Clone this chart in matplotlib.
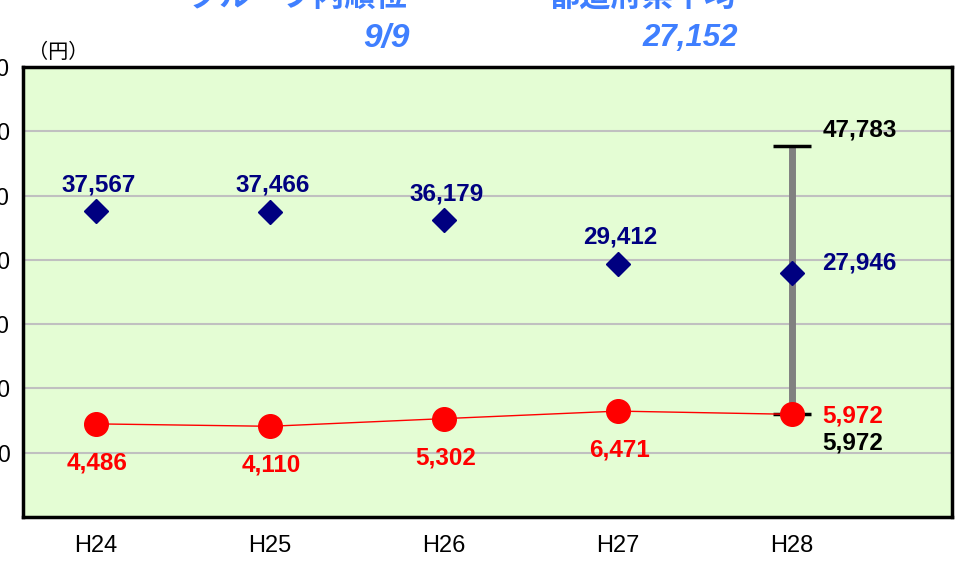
import matplotlib
matplotlib.use("Agg")
import matplotlib.pyplot as plt

plt.rcParams['font.family'] = ['Liberation Sans', 'Noto Sans CJK JP', 'DejaVu Sans']

# data
years = ["H24", "H25", "H26", "H27", "H28"]
group_values = [37567, 37466, 36179, 29412, 27946]   # blue diamonds
own_values = [4486, 4110, 5302, 6471, 5972]          # red circles
range_max = 47783
range_min = 5972
y_ticks = [0, 10000, 20000, 30000, 40000, 50000, 60000]

rank_title = "グループ内順位"
rank_value = "9/9"
avg_title = "都道府県平均"
avg_value = "27,152"

BLUE = "#000080"
RED = "#FF0000"
TITLE_BLUE = "#3F7FFF"

fig = plt.figure(figsize=(9.67, 5.74), dpi=100)
ax = fig.add_axes([23 / 967, 57 / 574, 929 / 967, 450 / 574])
ax.set_facecolor("#E4FDD4")

x = list(range(len(years)))
last = x[-1]

# min-max range bar for the last year
ax.plot([last, last], [range_min, range_max], color="#808080", lw=5, zorder=2,
        solid_capstyle="butt")
ax.plot([last], [range_max], marker="_", ms=27, mew=2.5, color="black", zorder=3)
ax.plot([last], [range_min], marker="_", ms=27, mew=2.5, color="black", zorder=3)

# own municipality line
ax.plot(x, own_values, color=RED, lw=1, marker="o", ms=17, mfc=RED, mec=RED, zorder=4)
# group average diamonds
ax.plot(x, group_values, ls="none", marker="D", ms=12, color=BLUE, zorder=4)

lab_font = dict(fontsize=17.5, fontweight="bold")
for i, v in enumerate(group_values):
    if i == last:
        ax.annotate(f"{v:,}", (i, v), xytext=(22, 7), textcoords="offset points",
                    ha="left", va="center", color=BLUE, **lab_font)
    else:
        ax.annotate(f"{v:,}", (i, v), xytext=(2, 19), textcoords="offset points",
                    ha="center", va="center", color=BLUE, **lab_font)
for i, v in enumerate(own_values):
    if i == last:
        ax.annotate(f"{v:,}", (i, v), xytext=(22, -1), textcoords="offset points",
                    ha="left", va="center", color=RED, **lab_font)
    else:
        ax.annotate(f"{v:,}", (i, v), xytext=(1, -28), textcoords="offset points",
                    ha="center", va="center", color=RED, **lab_font)
ax.annotate(f"{range_max:,}", (last, range_max), xytext=(22, 11), textcoords="offset points",
            ha="left", va="center", color="black", **lab_font)
ax.annotate(f"{range_min:,}", (last, range_min), xytext=(22, -21), textcoords="offset points",
            ha="left", va="center", color="black", **lab_font)

ax.set_xlim(-0.4195, 4.92)
ax.set_ylim(-10000, 60000)
ax.set_xticks(x)
ax.set_xticklabels(years, fontsize=17)
ax.set_yticks(y_ticks)
ax.set_yticklabels([f"{t:,}" for t in y_ticks], fontsize=16.5)
ax.tick_params(axis="x", length=0, pad=13)
ax.tick_params(axis="y", length=0, pad=9.5)
ax.grid(axis="y", color="#C0C0C0", lw=1.5)
ax.set_axisbelow(True)
for sp in ax.spines.values():
    sp.set_linewidth(2.5)
    sp.set_color("black")

fig.text(28 / 967, 1 - 52 / 574, "（円）", fontsize=14.5, ha="left", va="center",
         family=["Noto Sans CJK JP"])

title_font = dict(fontsize=22.5, fontweight="bold", style="italic", color=TITLE_BLUE)
fig.text(408 / 967, 1 + 2 / 574, rank_title, ha="right", va="center", **title_font)
fig.text(410 / 967, 1 - 38 / 574, rank_value, ha="right", va="center",
         **dict(title_font, fontsize=24))
fig.text(736 / 967, 1 + 2 / 574, avg_title, ha="right", va="center", **title_font)
fig.text(738 / 967, 1 - 38 / 574, avg_value, ha="right", va="center", **title_font)

fig.savefig("out.png", dpi=100)
